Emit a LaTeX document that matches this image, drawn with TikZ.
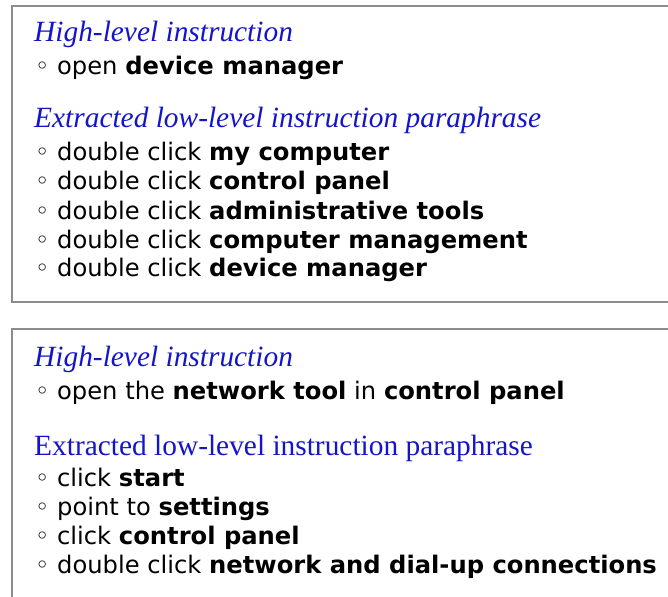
\documentclass[tikz,border=0pt]{standalone}
\usepackage{fontspec}
\setmainfont{DejaVu Sans}
\newfontfamily\headfont{Liberation Serif}
\usepackage{tikz}
\definecolor{headblue}{RGB}{20,20,200}
\tikzset{
  head/.style={anchor=base west,inner sep=0pt,font=\headfont\fontsize{29.5}{31}\selectfont,text=headblue},
  item/.style={anchor=base west,inner sep=0pt,font=\fontsize{24.3}{28}\selectfont},
  frame/.style={draw=black!45,line width=1.2bp}
}

\begin{document}
\begin{tikzpicture}[x=1bp,y=-1bp]
				\useasboundingbox (0,0) rectangle (668,597);
				\clip (0,0) rectangle (668,597);
				
				% first example
				\draw[frame] (12,6) rectangle (700,302);
				\node[head] (hi1) at (34,41.7) {\itshape High-level instruction};
				\node[item] (op1) at (35,75) {◦ open \textbf{device manager}};
				\node[head] (lo1) at (34,127.5) {\itshape Extracted low-level instruction paraphrase};
				\node[item] (a1) at (35,161) {◦ double click \textbf{my computer}};
				\node[item] (a2) at (35,190) {◦ double click \textbf{control panel}};
				\node[item] (a3) at (35,219) {◦ double click \textbf{administrative tools}};
				\node[item] (a4) at (35,248) {◦ double click \textbf{computer management}};
				\node[item] (a5) at (35,276.8) {◦ double click \textbf{device manager}};
				
				% second example
				\draw[frame] (12,329) rectangle (700,640);
				\node[head] (hi2) at (34,366.7) {\itshape High-level instruction};
				\node[item] (op2) at (35,399.3) {◦ open the \textbf{network tool} in \textbf{control panel}};
				\node[head] (lo2) at (34,455) {Extracted low-level instruction paraphrase};
				\node[item] (b1) at (35,486.7) {◦ click \textbf{start}};
				\node[item] (b2) at (35,515.7) {◦ point to \textbf{settings}};
				\node[item] (b3) at (35,544.7) {◦ click \textbf{control panel}};
				\node[item] (b4) at (35,573.7) {◦ double click \textbf{network and dial-up connections}};
\end{tikzpicture}
\end{document}
